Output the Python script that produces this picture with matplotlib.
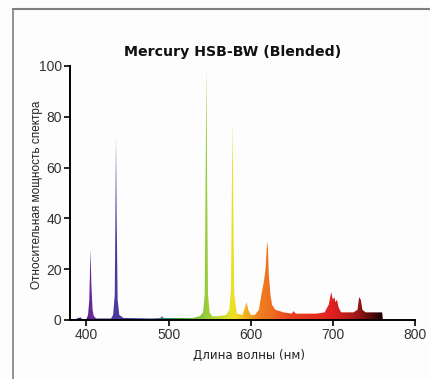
import numpy as np
import matplotlib
matplotlib.use('Agg')
import matplotlib.pyplot as plt
from matplotlib.colors import LinearSegmentedColormap, Normalize
from matplotlib.patches import Polygon
from matplotlib.lines import Line2D


# spectrum: wavelength (nm) / relative power
wavelength = [385, 390, 393, 395, 400, 402, 403.5, 405, 406, 407.5, 409, 412,
              430, 432.5, 434.5, 435.5, 436, 436.8, 438, 440, 445,
              480, 490, 492, 494, 530, 538, 542, 544, 545.3, 546, 546.8, 548,
              550, 553,
              560, 570, 574, 576, 577.3, 578, 578.8, 580, 583,
              590, 593, 595, 597, 600, 605, 610, 613, 616, 618, 620, 621,
              622, 624, 626, 630, 640, 650, 652, 655,
              680, 690, 695, 698, 700, 702, 703, 705, 707, 710,
              725, 730, 732, 734, 736, 740, 755, 760, 761]
power = [0, 0.8, 1.0, 0.3, 0.3, 2, 8, 28, 14, 4, 1.5, 0.6,
         0.6, 2, 10, 50, 72, 40, 8, 2, 0.8,
         0.6, 0.8, 1.5, 0.8, 0.8, 1.5, 3, 10, 65, 100, 60, 10,
         3, 1.5,
         1.5, 2, 4, 12, 60, 78, 45, 10, 2.5,
         2, 5, 7, 4, 2, 2, 4, 10, 15, 20, 31, 28,
         18, 10, 6, 4, 3, 2.5, 3.5, 2.5,
         2.5, 3, 6, 11, 8, 9, 7, 8, 5, 3,
         3, 4, 9, 8, 4, 3, 3, 3, 0]

x_ticks = [400, 500, 600, 700, 800]
y_ticks = [0, 20, 40, 60, 80, 100]

title = 'Mercury HSB-BW (Blended)'
x_label = 'Длина волны (нм)'
y_label = 'Относительная мощность спектра'

# colour by wavelength
spectrum_stops = [
    (380, '#2a0a3a'), (400, '#5a1a8a'), (405, '#6a2a9a'), (436, '#4a3aa0'),
    (470, '#3a4a9a'), (490, '#3a7a8a'), (510, '#40a050'), (546, '#9acd3a'),
    (570, '#d8e030'), (580, '#f0e020'), (595, '#f0b020'), (610, '#f08020'),
    (625, '#ee7020'), (650, '#e84020'), (700, '#e02020'), (730, '#a01818'),
    (760, '#200000'), (800, '#200000'),
]
lo, hi = 380, 800
cmap = LinearSegmentedColormap.from_list(
    'spec', [((w - lo) / (hi - lo), c) for w, c in spectrum_stops])

fig = plt.figure(figsize=(4.30, 3.79), dpi=100)
fig.patch.set_facecolor('#fdfdfd')
ax = fig.add_axes([0.1628, 0.1557, 0.8023, 0.6702])
ax.set_facecolor('#fdfdfd')

verts = np.column_stack([np.r_[wavelength[0], wavelength, wavelength[-1]],
                         np.r_[0, power, 0]])
patch = Polygon(verts, closed=True, fc='none', ec='none')
ax.add_patch(patch)
grad = np.linspace(lo, hi, 800).reshape(1, -1)
im = ax.imshow(grad, extent=[lo, hi, 0, 100], aspect='auto', origin='lower',
               cmap=cmap, norm=Normalize(lo, hi), interpolation='bilinear')
im.set_clip_path(patch)

ax.set_xlim(lo, hi)
ax.set_ylim(0, 100)
ax.set_xticks(x_ticks)
ax.set_yticks(y_ticks)
for s in ['top', 'right']:
    ax.spines[s].set_visible(False)
for s in ['left', 'bottom']:
    ax.spines[s].set_linewidth(1.4)
ax.tick_params(direction='out', length=4, width=1.2, labelsize=10,
               labelcolor='#333333', pad=2)
for lab in ax.get_xticklabels() + ax.get_yticklabels():
    lab.set_family('Liberation Sans')

fig.text(0.54, 0.863, title, ha='center', va='center', fontsize=10.2,
         weight='bold', color='#111111')
fig.text(0.578, 0.063, x_label, ha='center', va='center', fontsize=8.5,
         color='#222222')
fig.text(0.086, 0.485, y_label, ha='center', va='center', rotation=90,
         fontsize=8.5, family='Liberation Sans', color='#222222')

# outer frame lines
fig.add_artist(Line2D([13 / 430, 1], [1 - 9 / 379, 1 - 9 / 379],
                      color='#808080', lw=1.5))
fig.add_artist(Line2D([13 / 430, 13 / 430], [0, 1 - 9 / 379],
                      color='#808080', lw=1.2))

fig.savefig('out.png', dpi=100, facecolor=fig.get_facecolor())
